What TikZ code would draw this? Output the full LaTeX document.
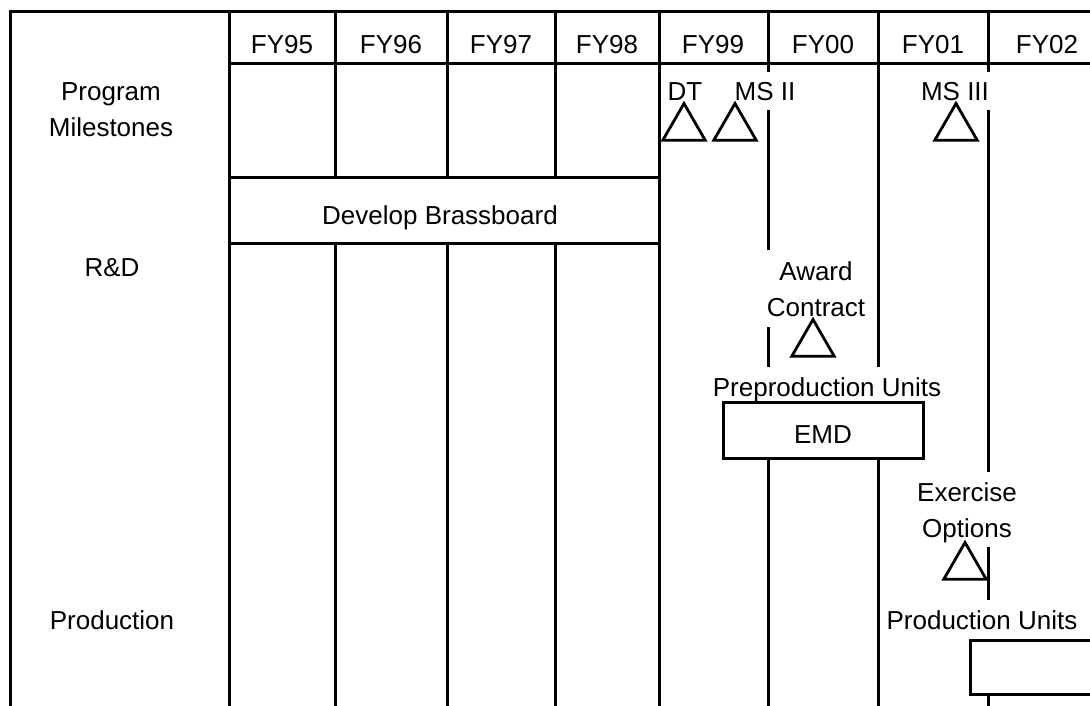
\documentclass[tikz,border=0pt]{standalone}
\usepackage{fontspec}
\setmainfont{Liberation Sans}
\usetikzlibrary{positioning, shapes.geometric}

\begin{document}
\begin{tikzpicture}[x=1pt,y=-1pt,
  % 1 unit = 1 pixel of the original chart, y grows downwards
  every node/.style={font=\fontsize{26}{36}\selectfont, inner sep=0pt, align=center},
  grid/.style={line width=3pt},
  bar/.style={draw,line width=3pt},
  ms/.style={draw,regular polygon,regular polygon sides=3,minimum size=49pt,line width=2.8pt}]

  \useasboundingbox (0,0) rectangle (1090,706);

  % frame and header
  \draw[grid] (1110,12) -- (10,12) -- (10,712);
  \draw[grid] (229,12) -- (229,712);
  \draw[grid] (229,64) -- (1110,64);
  \foreach \yr/\x in {95/282,96/391,97/501,98/607,99/713,00/823,01/933,02/1047}
    \node (fy\yr) at (\x,45) {FY\yr};

  % row labels
  \node (progms) at (111,110) {Program\\Milestones};
  \node (rnd) at (112,268) {R\&D};
  \node (prod) at (112,620) {Production};

  % bars
  \draw[bar] (229,178) rectangle (659,243);
  \node (brass) at (440,218) {Develop Brassboard};
  \draw[bar] (723,402) rectangle (923,458);
  \node (emd) at (823,435) {EMD};
  \draw[bar] (970,640) rectangle (1110,694);

  % year lines
  \foreach \x in {335,447,555}
    \draw[grid] (\x,12) -- (\x,178) (\x,243) -- (\x,712);
  \draw[grid] (659,12) -- (659,712);
  \draw[grid] (768,12) -- (768,72) (768,110) -- (768,250) (768,327) -- (768,367) (768,458) -- (768,712);
  \draw[grid] (878,12) -- (878,367) (878,458) -- (878,712);
  \draw[grid] (988,12) -- (988,72) (988,110) -- (988,472) (988,547) -- (988,600) (988,694) -- (988,712);

  % milestones
  \node[ms] (dt) at (684,128) {};
  \node (dtlbl) at (685,92) {DT};
  \node[ms] (msii) at (735,128) {};
  \node (msiilbl) at (765,92) {MS II};
  \node[ms] (msiii) at (956,128) {};
  \node (msiiilbl) at (955,92) {MS III};
  \node[ms] (award) at (813,344) {};
  \node (awardlbl) at (816,289) {Award\\Contract};
  \node[ms] (exopt) at (965,567) {};
  \node (exoptlbl) at (967,513) {Exercise\\Options};
  \node[anchor=base] (preunits) at (827,396) {Preproduction Units};
  \node[anchor=base] (produnits) at (982,629) {Production Units};

\end{tikzpicture}
\end{document}
